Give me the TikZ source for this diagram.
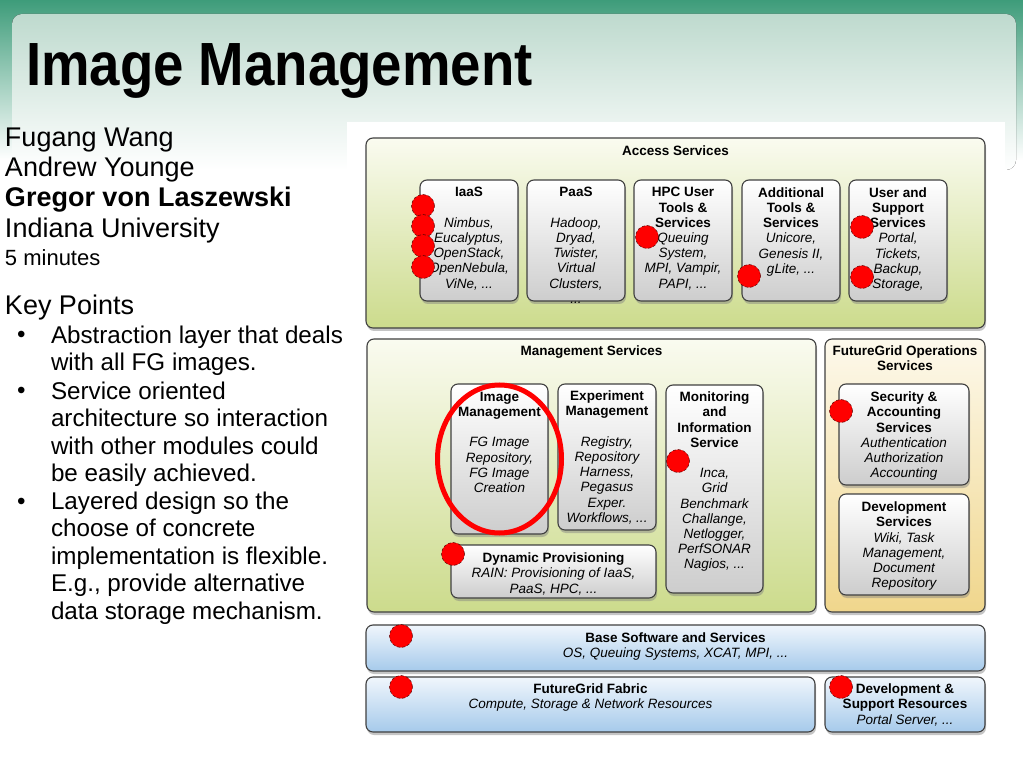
\documentclass[tikz,border=0pt]{standalone}
\usepackage{fontspec}
\setmainfont{Liberation Sans}
\newfontfamily\titlefont[FakeStretch=0.895]{Liberation Sans}
\usetikzlibrary{positioning,shadows}

\definecolor{slidegreen}{RGB}{62,156,122}
\definecolor{panelgreen}{RGB}{190,218,206}
\definecolor{acctop}{RGB}{250,251,240}
\definecolor{accbot}{RGB}{204,219,140}
\definecolor{opstop}{RGB}{253,249,236}
\definecolor{opsbot}{RGB}{240,214,140}
\definecolor{basetop}{RGB}{240,246,252}
\definecolor{basebot}{RGB}{166,202,235}
\definecolor{boxbot}{RGB}{205,205,205}

\newcommand{\boxhead}[1]{\textbf{\upshape #1}}

\begin{document}
\begin{tikzpicture}
[x=1pt,y=-1pt,
 every node/.style={inner sep=0pt,outer sep=0pt},
 tier/.style={draw=black!75,line width=1.1pt,rounded corners=7pt,anchor=north west,
   drop shadow={shadow xshift=1pt,shadow yshift=-3pt,opacity=0.45}},
 access/.style={tier,top color=acctop,bottom color=accbot},
 ops/.style={tier,top color=opstop,bottom color=opsbot},
 lowtier/.style={tier,top color=basetop,bottom color=basebot},
 inbox/.style={tier,top color=white,bottom color=boxbot},
 boxtext/.style={font=\fontsize{13.5}{15.2}\selectfont\itshape,align=center},
 hdtext/.style={font=\fontsize{13.5}{15.2}\selectfont\bfseries,align=center},
 spot/.style={circle,minimum size=23pt,fill=red,draw=red!35!black,densely dashed,line width=0.5pt},
 ring/.style={draw=red,line width=5pt},
 author/.style={font=\fontsize{27}{30}\selectfont,anchor=base west},
 keypt/.style={font=\fontsize{24.2}{27.5}\selectfont,align=left,anchor=north west},
 bullet/.style={font=\fontsize{24.2}{27.5}\selectfont,anchor=base west},
 titletext/.style={font=\titlefont\fontsize{61}{67}\selectfont\bfseries,anchor=base west}]
\useasboundingbox (0,0) rectangle (1023,767);

% slide background
\fill[white] (0,0) rectangle (1023,767);
\fill[top color=slidegreen,bottom color=white] (0,0) rectangle (1023,160);
\fill[top color=panelgreen,bottom color=white,rounded corners=10pt] (12,14) rectangle (1016,170);
\fill[white] (347,122) rectangle (1005,757);

\node[titletext] (title) at (26,86) {Image Management};

% left column
\node[author] (n1) at (5,147) {Fugang Wang};
\node[author] (n2) at (5,177) {Andrew Younge};
\node[author] (n3) at (5,207) {\textbf{Gregor von Laszewski}};
\node[author] (n4) at (5,238) {Indiana University};
\node[author,font=\fontsize{22}{26}\selectfont] (n5) at (5,266) {5 minutes};
\node[author] (kp) at (5,315) {Key Points};

\node[bullet] (b1) at (17,343) {•};
\node[bullet] (b2) at (17,399) {•};
\node[bullet] (b3) at (17,509) {•};
\node[keypt] (p1) at (51,325.5) {Abstraction layer that deals\\with all FG images.};
\node[keypt] (p2) at (51,381.5) {Service oriented\\architecture so interaction\\with other modules could\\be easily achieved.};
\node[keypt] (p3) at (51,491.5) {Layered design so the\\choose of concrete\\implementation is flexible.\\E.g., provide alternative\\data storage mechanism.};

% access services
\node[access,minimum width=619pt,minimum height=190pt] (acc) at (366,138) {};
\node[hdtext,below=8pt of acc.north] (acct) {Access Services};
\node[inbox,minimum width=98pt,minimum height=121pt] (iaas) at (420,180) {};
\node[inbox,minimum width=98pt,minimum height=121pt] (paas) at (527,180) {};
\node[inbox,minimum width=98pt,minimum height=121pt] (hpc)  at (634,180) {};
\node[inbox,minimum width=98pt,minimum height=121pt] (addt) at (742,180) {};
\node[inbox,minimum width=98pt,minimum height=121pt] (user) at (849,180) {};
\node[boxtext,below=7.5pt of iaas.north] (iaast) {\boxhead{IaaS}\\[15.2pt]Nimbus,\\Eucalyptus,\\OpenStack,\\OpenNebula,\\ViNe, ...};
\node[boxtext,below=7.5pt of paas.north] (paast) {\boxhead{PaaS}\\[15.2pt]Hadoop,\\Dryad,\\Twister,\\Virtual\\Clusters,\\...};
\node[boxtext,below=7.5pt of hpc.north] (hpct) {\boxhead{HPC User}\\\boxhead{Tools \&}\\\boxhead{Services}\\Queuing\\System,\\MPI, Vampir,\\PAPI, ...};
\node[boxtext,below=7.5pt of addt.north] (addtt) {\boxhead{Additional}\\\boxhead{Tools \&}\\\boxhead{Services}\\Unicore,\\Genesis II,\\gLite, ...};
\node[boxtext,below=7.5pt of user.north] (usert) {\boxhead{User and}\\\boxhead{Support}\\\boxhead{Services}\\Portal,\\Tickets,\\Backup,\\Storage,};

% management services
\node[access,minimum width=449pt,minimum height=273pt] (mgmt) at (367,339) {};
\node[hdtext,below=7pt of mgmt.north] (mgmtt) {Management Services};
\node[inbox,minimum width=97pt,minimum height=150pt] (img)  at (451,384) {};
\node[inbox,minimum width=98pt,minimum height=146pt] (expm) at (558,384) {};
\node[inbox,minimum width=97pt,minimum height=208pt] (moni) at (666,385) {};
\node[inbox,minimum width=205pt,minimum height=53pt] (dyn)  at (451,545) {};
\node[boxtext,below=8pt of img.north] (imgt) {\boxhead{Image}\\\boxhead{Management}\\[15.2pt]FG Image\\Repository,\\FG Image\\Creation};
\node[boxtext,below=7pt of expm.north] (expmt) {\boxhead{Experiment}\\\boxhead{Management}\\[15.2pt]Registry,\\Repository\\Harness,\\Pegasus\\Exper.\\Workflows, ...};
\node[boxtext,below=7pt of moni.north] (monit) {\boxhead{Monitoring}\\\boxhead{and}\\\boxhead{Information}\\\boxhead{Service}\\[15.2pt]Inca,\\Grid\\Benchmark\\Challange,\\Netlogger,\\PerfSONAR\\Nagios, ...};
\node[boxtext,below=8pt of dyn.north] (dynt) {\boxhead{Dynamic Provisioning}\\RAIN: Provisioning of IaaS,\\PaaS, HPC, ...};

% operations services
\node[ops,minimum width=160pt,minimum height=273pt] (ops) at (825,339) {};
\node[hdtext,below=7pt of ops.north] (opst) {FutureGrid Operations\\Services};
\node[inbox,minimum width=130pt,minimum height=101pt] (secu) at (839,384) {};
\node[inbox,minimum width=130pt,minimum height=101pt] (devs) at (839,494) {};
\node[boxtext,below=8pt of secu.north] (secut) {\boxhead{Security \&}\\\boxhead{Accounting}\\\boxhead{Services}\\Authentication\\Authorization\\Accounting};
\node[boxtext,below=8pt of devs.north] (devst) {\boxhead{Development}\\\boxhead{Services}\\Wiki, Task\\Management,\\Document\\Repository};

% base layers
\node[lowtier,minimum width=619pt,minimum height=46pt] (basesw) at (366,625) {};
\node[lowtier,minimum width=449pt,minimum height=55pt] (fabric) at (366,677) {};
\node[lowtier,minimum width=160pt,minimum height=55pt] (devres) at (825,677) {};
\node[boxtext,below=8pt of basesw.north] (baset) {\boxhead{Base Software and Services}\\OS, Queuing Systems, XCAT, MPI, ...};
\node[boxtext,below=7pt of fabric.north] (fabrict) {\boxhead{FutureGrid Fabric}\\Compute, Storage \& Network Resources};
\node[boxtext,below=7pt of devres.north] (devrest) {\boxhead{Development \&}\\\boxhead{Support Resources}\\Portal Server, ...};

% highlight
\draw[ring] (img.center) ellipse [x radius=62pt,y radius=74pt];

% red spots
\node[spot] (s1)  at (423,206) {};
\node[spot] (s2)  at (423,226) {};
\node[spot] (s3)  at (423,246) {};
\node[spot] (s4)  at (423,267) {};
\node[spot] (s5)  at (647,237) {};
\node[spot] (s6)  at (749,276) {};
\node[spot] (s7)  at (862,227) {};
\node[spot] (s8)  at (862,277) {};
\node[spot] (s9)  at (678,461) {};
\node[spot] (s10) at (453,554) {};
\node[spot] (s11) at (841,411) {};
\node[spot] (s12) at (401,636) {};
\node[spot] (s13) at (401,687) {};
\node[spot] (s14) at (841,687) {};
\end{tikzpicture}
\end{document}
